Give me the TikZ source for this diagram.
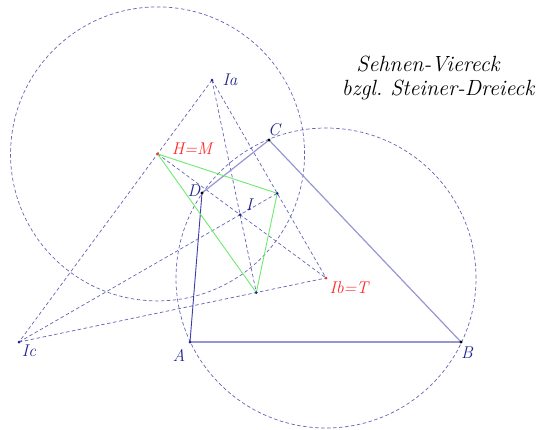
\documentclass[tikz,border=0pt]{standalone}
\usetikzlibrary{calc}
\definecolor{navy}{RGB}{35,35,140}
\definecolor{dashc}{RGB}{100,100,180}
\definecolor{sidec}{RGB}{150,150,210}
\definecolor{sidedark}{RGB}{60,60,170}
\definecolor{redc}{RGB}{255,40,40}
\definecolor{greenc}{RGB}{110,235,110}
\tikzset{
  dline/.style={draw=dashc, line width=0.7pt, dash pattern=on 3.5pt off 2.5pt},
  side/.style={draw=sidec, line width=1.2pt},
  sidedk/.style={draw=sidedark, line width=0.9pt},
  gline/.style={draw=greenc, line width=0.9pt},
  lbl/.style={text=navy, font=\fontsize{17}{20}\selectfont\itshape, inner sep=1pt},
  rlbl/.style={text=redc, font=\fontsize{17}{20}\selectfont\itshape, inner sep=1pt},
  ttl/.style={text=black, font=\fontsize{22}{26}\selectfont\itshape, inner sep=0pt},
  dotn/.style={fill=navy, circle, inner sep=0pt, minimum size=3pt},
  dotk/.style={fill=black, circle, inner sep=0pt, minimum size=3.2pt},
  dotr/.style={fill=redc, circle, inner sep=0pt, minimum size=3pt}
}
\begin{document}
\begin{tikzpicture}[x=1pt,y=-1pt]
\useasboundingbox (0,0) rectangle (545,429);
% excentral triangle
\coordinate (Ia) at (212,80);
\coordinate (Ib) at (326,278);
\coordinate (Ic) at (19,342);
% feet of altitudes
\coordinate (H) at ($(Ia)!(Ib)!(Ic)$);
\coordinate (P1) at ($(Ia)!(Ic)!(Ib)$);
\coordinate (P2) at ($(Ic)!(Ia)!(Ib)$);
\coordinate (I) at (intersection of Ia--P2 and Ic--P1);
% quadrilateral
\coordinate (A) at (190,342);
\coordinate (B) at (461,342);
\coordinate (C) at (269,140);
\coordinate (D) at (202,193);
% circles
\draw[dline] (H) circle[radius=147pt];
\draw[dline] (Ib) circle[radius=150pt];
% dashed lines
\draw[dline] (Ia) -- (Ic);
\draw[dline] (Ia) -- (Ib);
\draw[dline] (Ic) -- (Ib);
\draw[dline] (Ia) -- (P2);
\draw[dline] (Ic) -- (P1);
\draw[dline] (H) -- (Ib);
% quadrilateral sides
\draw[side] (A) -- (B);
\draw[side] (B) -- (C);
\draw[side] (C) -- (D);
\draw[sidedk] (D) -- (A);
% green triangle
\draw[gline] (H) -- (P1) -- (P2) -- cycle;
% dots
\node[dotn] (nIa) at (Ia) {};
\node[dotn] (nIc) at (Ic) {};
\node[dotn] (nI) at (I) {};
\node[dotn] (nP1) at (P1) {};
\node[dotn] (nP2) at (P2) {};
\node[dotn] (nA) at (A) {};
\node[dotk] (nB) at (B) {};
\node[dotk] (nC) at (C) {};
\node[dotk] (nD) at (D) {};
\node[dotr] (nH) at (H) {};
\node[dotr] (nIb) at (Ib) {};
% labels
\node[lbl] (tIa) at (230,80) {Ia};
\node[lbl] (tC) at (274,130) {C};
\node[rlbl] (tH) at (192,149) {H=M};
\node[lbl] (tD) at (194,191) {D};
\node[lbl] (tI) at (249,205) {I};
\node[rlbl] (tIb) at (349,288) {Ib=T};
\node[lbl] (tIc) at (29,351) {Ic};
\node[lbl] (tA) at (179,355) {A};
\node[lbl] (tB) at (467,353) {B};
\node[ttl] (t1) at (428,64) {Sehnen-Viereck};
\node[ttl] (t2) at (438,90) {bzgl.\ Steiner-Dreieck};
\end{tikzpicture}
\end{document}
